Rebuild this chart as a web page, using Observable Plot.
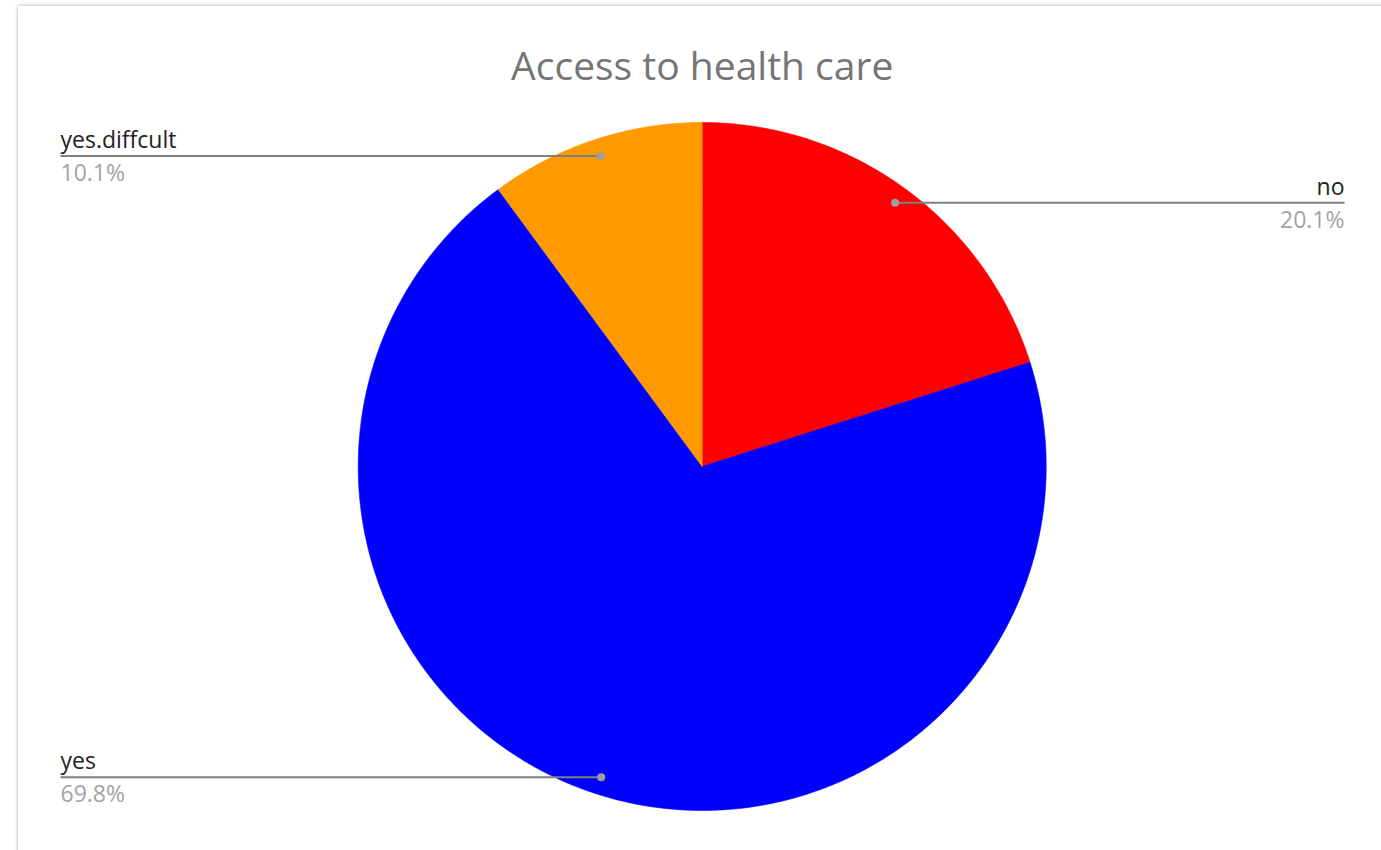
<!DOCTYPE html>
<html>
<head>
<meta charset="utf-8">
<script src="https://cdn.jsdelivr.net/npm/d3@7"></script>
<script src="https://cdn.jsdelivr.net/npm/@observablehq/plot@0.6"></script>
<style>
  html, body { margin: 0; padding: 0; background: #ffffff; }
  #frame { position: absolute; left: 18px; top: 6px; width: 1400px; height: 900px;
           background: #ffffff; box-shadow: 0 0 4px rgba(0,0,0,0.35); }
  #chart { position: absolute; left: 0; top: 0; }
</style>
</head>
<body>
<div id="frame"></div>
<div id="chart"></div>
<script>
// ---- data ----
const title = "Access to health care";
const categories = ["no", "yes", "yes.diffcult"];
const values = [20.1, 69.8, 10.1];
const percentLabels = ["20.1%", "69.8%", "10.1%"];
const palette = ["#ff0000", "#0000ff", "#ff9900"];

// ---- layout (pixels) ----
const W = 1381, H = 850;
const cx = 701.7, cy = 466, R = 344;
const leftEdge = 60, rightEdge = 1344;  // label line ends
const dotRadius = 0.95;                 // leader dot, in radii

const pie = d3.pie().sort(null).value(d => d.value)(
  categories.map((c, i) => ({category: c, value: values[i], pct: percentLabels[i]}))
);

// polygon points for each slice (unit-circle coordinates, angle clockwise from 12 o'clock)
const slicePts = [];
for (const s of pie) {
  const c = s.data.category;
  slicePts.push({category: c, x: 0, y: 0});
  const n = Math.max(2, Math.ceil((s.endAngle - s.startAngle) / (Math.PI / 360)));
  for (let k = 0; k <= n; k++) {
    const a = s.startAngle + (s.endAngle - s.startAngle) * k / n;
    slicePts.push({category: c, x: Math.sin(a), y: -Math.cos(a)});
  }
  slicePts.push({category: c, x: 0, y: 0});
}

const labels = pie.map(s => {
  const a = (s.startAngle + s.endAngle) / 2;
  const right = a < Math.PI;
  return {
    category: s.data.category,
    pct: s.data.pct,
    dx: dotRadius * Math.sin(a),
    dy: -dotRadius * Math.cos(a),
    lx: right ? (rightEdge - cx) / R : -(cx - leftEdge) / R,
    right
  };
});
const rightLabels = labels.filter(d => d.right);
const leftLabels = labels.filter(d => !d.right);

const labelMarks = (data, anchor) => [
  Plot.text(data, {x: "lx", y: "dy", text: "category", textAnchor: anchor, lineAnchor: "bottom",
                   dy: -8, fontSize: 23, fill: "#222222"}),
  Plot.text(data, {x: "lx", y: "dy", text: "pct", textAnchor: anchor, lineAnchor: "bottom",
                   dy: 25, fontSize: 23, fill: "#a3a3a3"})
];

const chart = Plot.plot({
  width: W,
  height: H,
  margin: 0,
  style: {background: "transparent", fontFamily: "'Open Sans', sans-serif", overflow: "visible"},
  x: {domain: [-1, 1], range: [cx - R, cx + R], axis: null},
  y: {domain: [-1, 1], range: [cy - R, cy + R], axis: null},
  color: {domain: categories, range: palette},
  marks: [
    Plot.line(slicePts, {x: "x", y: "y", z: "category", fill: "category", stroke: "category",
                         strokeWidth: 0.6, curve: "linear"}),
    Plot.link(labels, {x1: "lx", y1: "dy", x2: "dx", y2: "dy", stroke: "#7f7f7f", strokeWidth: 2}),
    Plot.dot(labels, {x: "dx", y: "dy", r: 4, fill: "#9e9e9e"}),
    ...labelMarks(rightLabels, "end"),
    ...labelMarks(leftLabels, "start"),
    Plot.text([title], {x: 0, y: -1, text: d => d, textAnchor: "middle", lineAnchor: "bottom",
                        dy: -43, fontSize: 39, fill: "#757575"})
  ]
});
document.getElementById("chart").appendChild(chart);
</script>
</body>
</html>
